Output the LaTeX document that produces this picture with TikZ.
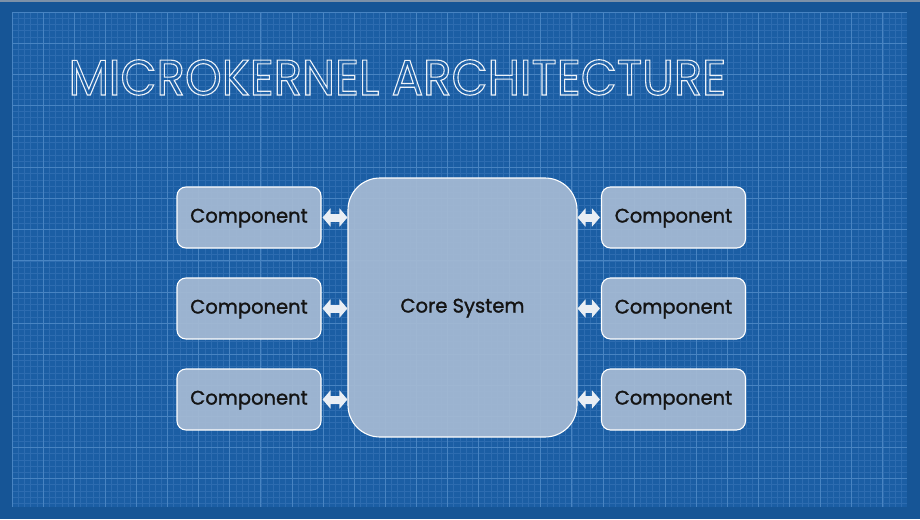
\documentclass[tikz,border=0pt]{standalone}
\usepackage{fontspec}
\setmainfont{Poppins}
\newfontfamily\titlefont{Poppins}[FakeStretch=0.935]
\newfontfamily\labelfont{Poppins}[FakeBold=1.4]
\usetikzlibrary{arrows.meta}
\definecolor{bpblue}{RGB}{27,94,164}
\definecolor{bpedge}{RGB}{22,85,150}
\definecolor{bptop}{RGB}{125,145,168}
\definecolor{bpminor}{RGB}{45,108,176}
\definecolor{bpmajor}{RGB}{72,132,194}
\definecolor{boxfill}{RGB}{166,187,212}
\definecolor{arrowfill}{RGB}{233,238,244}
\newcommand{\outlinetext}[1]{\special{pdf:literal direct 1 Tr 1.1 w}#1\special{pdf:literal direct 0 Tr}}

\begin{document}
\begin{tikzpicture}[x=1pt,y=-1pt,
  minorline/.style={bpminor,line width=0.5pt},
  majorline/.style={bpmajor,line width=0.8pt},
  comp/.style={draw=white,line width=1.1pt,fill=boxfill,fill opacity=0.92,text opacity=1,rounded corners=9pt,
    minimum width=144pt,minimum height=61pt,inner sep=0pt,text height=13pt,text depth=3pt,
    font=\labelfont\fontsize{19.5}{22}\selectfont,text=black!92},
  core/.style={comp,rounded corners=32pt,minimum width=229pt,minimum height=259pt},
  dbl/.style={arrowfill,line width=8pt,{Triangle[width=18pt,length=8pt]}-{Triangle[width=18pt,length=8pt]}}]
% blueprint sheet
\fill[bpedge] (0,0) rectangle (920,519);\fill[bptop] (0,0) rectangle (920,2.5);
\fill[bpblue] (12,12) rectangle (907,507);
\foreach \i in {0,...,143} {\draw[minorline] ({12+6.22*\i},12) -- ++(0,495);}
\foreach \i in {0,...,79} {\draw[minorline] (12,{12+6.22*\i}) -- ++(895,0);}
\foreach \i in {0,...,28} {\draw[majorline] ({12+31.1*\i},12) -- ++(0,495);}
\foreach \i in {0,...,15} {\draw[majorline] (12,{12+31.1*\i}) -- ++(895,0);}
%
\node[anchor=west,inner sep=0pt,text=white!92!bpblue,font=\titlefont\fontsize{50}{52}\selectfont] (title) at (68.5,77.5)
{\outlinetext{MICROKERNEL ARCHITECTURE}};
%
\node[core] (core) at (462.5,307.5) {Core System};
\node[comp] (l1) at (249,217.5) {Component};\node[comp] (l2) at (249,308.5) {Component};\node[comp] (l3) at (249,399.5) {Component};
\node[comp] (r1) at (673.5,217.5) {Component};\node[comp] (r2) at (673.5,308.5) {Component};\node[comp] (r3) at (673.5,399.5) {Component};
%
\draw[dbl] ([xshift=1pt]l1.east) -- (l1.east -| core.west);\draw[dbl] ([xshift=1pt]l2.east) -- (l2.east -| core.west);
\draw[dbl] ([xshift=1pt]l3.east) -- (l3.east -| core.west);
\draw[dbl] (r1.west -| core.east) -- ([xshift=-1pt]r1.west);\draw[dbl] (r2.west -| core.east) -- ([xshift=-1pt]r2.west);
\draw[dbl] (r3.west -| core.east) -- ([xshift=-1pt]r3.west);
\end{tikzpicture}
\end{document}
